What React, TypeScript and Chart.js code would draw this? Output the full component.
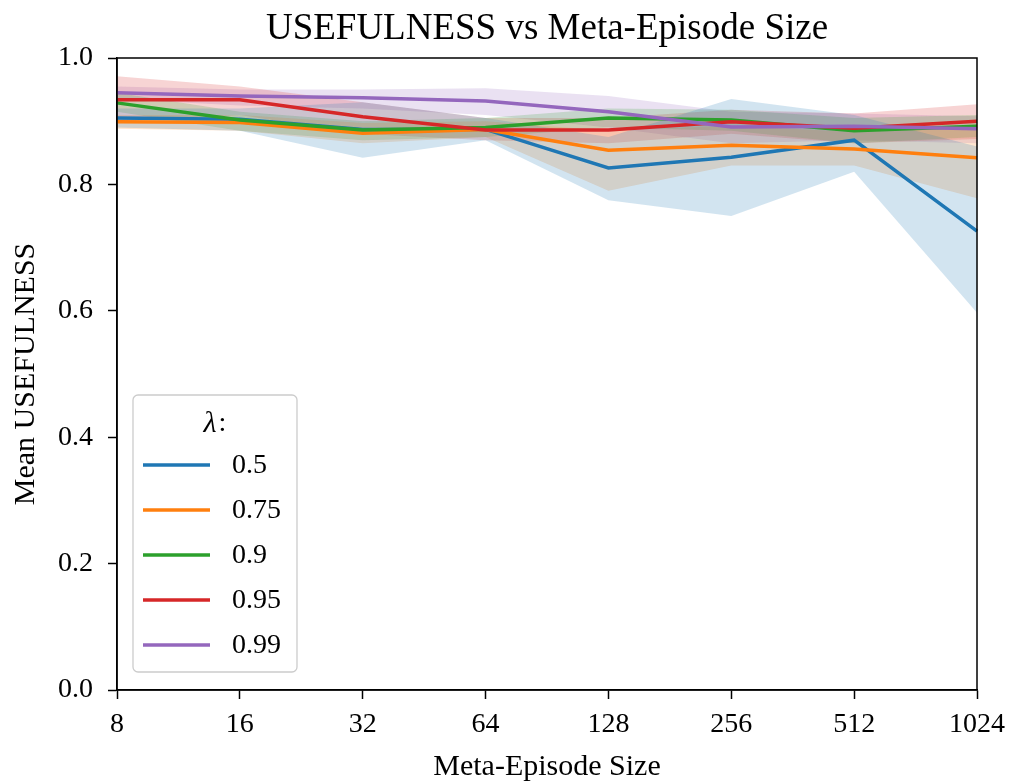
import React, { useEffect, useRef } from "react";
import { Chart, registerables } from "chart.js";
Chart.register(...registerables);

const sizes = ["8", "16", "32", "64", "128", "256", "512", "1024"];
const lambdas = ["0.5", "0.75", "0.9", "0.95", "0.99"];
const colors = ["#1f77b4", "#ff7f0e", "#2ca02c", "#d62728", "#9467bd"];
const bandColors = [
  "rgba(31,119,180,0.2)",
  "rgba(255,127,14,0.2)",
  "rgba(44,160,44,0.2)",
  "rgba(214,39,40,0.2)",
  "rgba(148,103,189,0.2)",
];

const mean05 = [0.905, 0.903, 0.887, 0.887, 0.826, 0.843, 0.870, 0.726];
const lo05 = [0.890, 0.885, 0.842, 0.870, 0.775, 0.750, 0.820, 0.597];
const hi05 = [0.920, 0.920, 0.930, 0.905, 0.875, 0.935, 0.910, 0.860];

const mean075 = [0.899, 0.898, 0.881, 0.887, 0.854, 0.862, 0.856, 0.842];
const lo075 = [0.888, 0.885, 0.865, 0.875, 0.790, 0.830, 0.830, 0.778];
const hi075 = [0.910, 0.910, 0.897, 0.900, 0.885, 0.893, 0.883, 0.895];

const mean09 = [0.929, 0.902, 0.886, 0.890, 0.905, 0.902, 0.885, 0.892];
const lo09 = [0.915, 0.885, 0.870, 0.875, 0.890, 0.885, 0.865, 0.875];
const hi09 = [0.945, 0.915, 0.900, 0.905, 0.920, 0.918, 0.905, 0.910];

const mean095 = [0.934, 0.934, 0.907, 0.886, 0.886, 0.899, 0.889, 0.900];
const lo095 = [0.900, 0.910, 0.880, 0.870, 0.865, 0.880, 0.865, 0.872];
const hi095 = [0.971, 0.955, 0.930, 0.905, 0.905, 0.918, 0.912, 0.927];

const mean099 = [0.945, 0.940, 0.937, 0.932, 0.915, 0.891, 0.892, 0.888];
const lo099 = [0.935, 0.925, 0.920, 0.910, 0.890, 0.865, 0.870, 0.865];
const hi099 = [0.955, 0.950, 0.950, 0.952, 0.940, 0.915, 0.912, 0.908];

const yTicks = [0.0, 0.2, 0.4, 0.6, 0.8, 1.0];

const means = [mean05, mean075, mean09, mean095, mean099];
const lows = [lo05, lo075, lo09, lo095, lo099];
const highs = [hi05, hi075, hi09, hi095, hi099];

const FONT = "'Liberation Serif', 'DejaVu Serif', serif";

const framePlugin = {
  id: "frame",
  afterDatasetsDraw(chart: any) {
    const { left, right, top, bottom } = chart.chartArea;
    const ctx = chart.ctx;
    ctx.save();
    ctx.strokeStyle = "#000";
    ctx.lineWidth = 1.5;
    ctx.strokeRect(left, top, right - left, bottom - top);
    ctx.restore();
  },
};

const legendPlugin = {
  id: "boxLegend",
  afterDraw(chart: any) {
    const { left, bottom } = chart.chartArea;
    const ctx = chart.ctx;
    const x0 = left + 16;
    const w = 164;
    const h = 277;
    const y0 = bottom - 18 - h;
    ctx.save();
    ctx.beginPath();
    if (ctx.roundRect) ctx.roundRect(x0, y0, w, h, 5);
    else ctx.rect(x0, y0, w, h);
    ctx.fillStyle = "rgba(255,255,255,0.8)";
    ctx.fill();
    ctx.strokeStyle = "#cccccc";
    ctx.lineWidth = 1.3;
    ctx.stroke();

    ctx.fillStyle = "#000";
    ctx.textBaseline = "middle";
    ctx.font = `italic 30px ${FONT}`;
    const lw = ctx.measureText("λ").width;
    ctx.font = `28px ${FONT}`;
    const cw = ctx.measureText(":").width;
    const tx = x0 + w / 2 - (lw + cw + 2) / 2;
    ctx.font = `italic 30px ${FONT}`;
    ctx.textAlign = "left";
    ctx.fillText("λ", tx, y0 + 29);
    ctx.font = `28px ${FONT}`;
    ctx.fillText(":", tx + lw + 2, y0 + 29);

    lambdas.forEach((lab, i) => {
      const y = y0 + 70 + i * 45;
      ctx.strokeStyle = colors[i];
      ctx.lineWidth = 3.5;
      ctx.beginPath();
      ctx.moveTo(x0 + 10, y);
      ctx.lineTo(x0 + 77, y);
      ctx.stroke();
      ctx.fillStyle = "#000";
      ctx.font = `28px ${FONT}`;
      ctx.textAlign = "left";
      ctx.fillText(lab, x0 + 99, y + 1);
    });
    ctx.restore();
  },
};

export default function App() {
  const ref = useRef<HTMLCanvasElement>(null);
  useEffect(() => {
    if (!ref.current) return;
    const datasets: any[] = [];
    for (let i = 0; i < 5; i++) {
      datasets.push({
        label: `lo ${lambdas[i]}`,
        data: lows[i],
        borderWidth: 0,
        pointRadius: 0,
        fill: false,
        order: 20 + i * 2,
      });
      datasets.push({
        label: `hi ${lambdas[i]}`,
        data: highs[i],
        borderWidth: 0,
        pointRadius: 0,
        backgroundColor: bandColors[i],
        fill: "-1",
        order: 21 + i * 2,
      });
    }
    for (let i = 0; i < 5; i++) {
      datasets.push({
        label: lambdas[i],
        data: means[i],
        borderColor: colors[i],
        backgroundColor: colors[i],
        borderWidth: 3.5,
        pointRadius: 0,
        fill: false,
        tension: 0,
        order: 10 - i,
      });
    }
    const chart = new Chart(ref.current, {
      type: "line",
      data: { labels: sizes, datasets },
      plugins: [framePlugin, legendPlugin],
      options: {
        animation: false,
        responsive: false,
        devicePixelRatio: 1,
        layout: { padding: { left: 0, right: 34, top: 0, bottom: 0 } },
        plugins: {
          legend: { display: false },
          tooltip: { enabled: false },
          filler: { drawTime: "beforeDatasetsDraw" } as any,
          title: {
            display: true,
            text: "USEFULNESS vs Meta-Episode Size",
            color: "#000",
            font: { family: FONT, size: 37, weight: "normal", lineHeight: 1 },
            padding: { top: 11, bottom: 10 },
            fullSize: false,
          } as any,
        },
        scales: {
          x: {
            type: "category",
            offset: false,
            grid: {
              display: true,
              drawOnChartArea: false,
              drawTicks: true,
              tickLength: 9,
              tickWidth: 1.5,
              color: "#000",
            },
            border: { display: true, color: "#000", width: 1.5 },
            ticks: {
              color: "#000",
              font: { family: FONT, size: 28 },
              padding: 9,
              maxRotation: 0,
              autoSkip: false,
            },
            title: {
              display: true,
              text: "Meta-Episode Size",
              color: "#000",
              font: { family: FONT, size: 30, lineHeight: 1 },
              padding: { top: 0, bottom: 1 },
            },
            afterFit: (s: any) => {
              s.height = 93;
              s.paddingLeft = 0;
              s.paddingRight = 0;
            },
          },
          y: {
            min: 0,
            max: 1,
            afterBuildTicks: (s: any) => {
              s.ticks = yTicks.map((v) => ({ value: v }));
            },
            grid: {
              display: true,
              drawOnChartArea: false,
              drawTicks: true,
              tickLength: 9,
              tickWidth: 1.5,
              color: "#000",
            },
            border: { display: true, color: "#000", width: 1.5 },
            ticks: {
              color: "#000",
              font: { family: FONT, size: 28 },
              padding: 15,
              callback: (v: any) => Number(v).toFixed(1),
            },
            title: {
              display: true,
              text: "Mean USEFULNESS",
              color: "#000",
              font: { family: FONT, size: 30, lineHeight: 1 },
              padding: { top: 11, bottom: 0 },
            },
            afterFit: (s: any) => {
              s.width = 117;
              s.paddingTop = 0;
              s.paddingBottom = 0;
            },
          },
        },
      },
    });
    return () => chart.destroy();
  }, []);
  return (
    <div style={{ position: "absolute", left: 0, top: 0, width: 1011, height: 783, background: "#fff" }}>
      <canvas ref={ref} width={1011} height={783} style={{ display: "block", width: 1011, height: 783 }} />
    </div>
  );
}
